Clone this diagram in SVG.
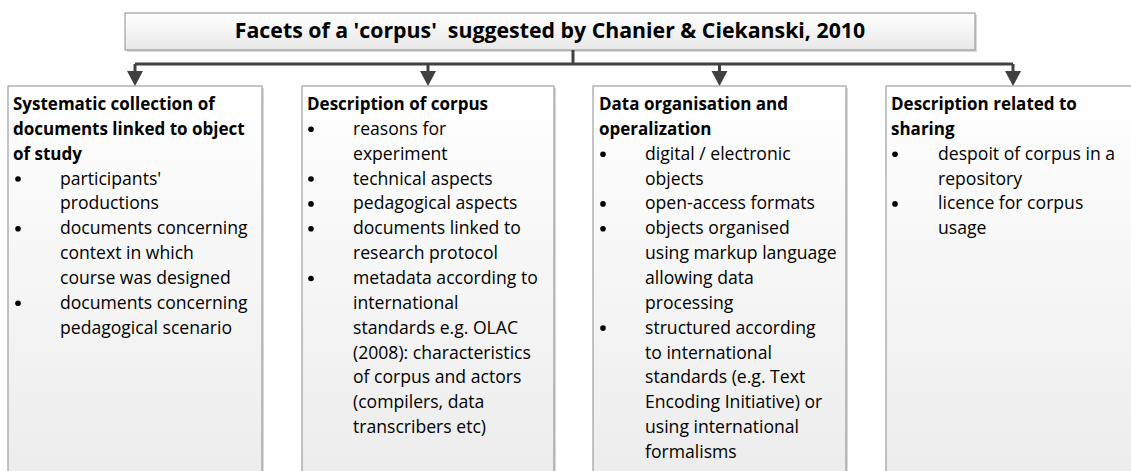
<svg xmlns="http://www.w3.org/2000/svg" width="1131" height="471" viewBox="0 0 1131 471">
<style>
.box{fill:url(#g);stroke:#8c8c8c;stroke-width:1}
.sh{fill:#dadada}
.h{font-family:"Open Sans","Liberation Sans",sans-serif;font-weight:bold;font-size:17px;fill:#000}
.t{font-family:"Open Sans","Liberation Sans",sans-serif;font-size:17.6px;fill:#000}
.title{font-family:"Open Sans","Liberation Sans",sans-serif;font-weight:bold;font-size:21.3px;fill:#000}
.c{fill:none;stroke:#404040;stroke-width:3}
.a{fill:#404040}
</style>
<defs>
<linearGradient id="g" x1="0" y1="0" x2="0" y2="1">
<stop offset="0" stop-color="#ffffff"/>
<stop offset="1" stop-color="#ececec"/>
</linearGradient>
<linearGradient id="gt" x1="0" y1="0" x2="0" y2="1">
<stop offset="0" stop-color="#ffffff"/>
<stop offset="1" stop-color="#e8e8e8"/>
</linearGradient>
</defs>
<rect width="1131" height="471" fill="#fff"/>

<g id="title">
<rect x="127" y="15" width="850" height="37" class="sh"/>
<rect x="125" y="13" width="850" height="37" fill="url(#gt)" stroke="#8c8c8c"/>
<text x="550" y="38" text-anchor="middle" class="title" xml:space="preserve">Facets of a 'corpus'  suggested by Chanier &amp; Ciekanski, 2010</text>
</g>

<g id="connectors">
<path class="c" d="M573,50 V64"/>
<path class="c" d="M135,64 H1013"/>
<path class="c" d="M135,64 V74"/>
<path class="c" d="M428,64 V74"/>
<path class="c" d="M719.5,64 V74"/>
<path class="c" d="M1013,64 V74"/>
<polygon class="a" points="127,71 143,71 135,86"/>
<polygon class="a" points="420,71 436,71 428,86"/>
<polygon class="a" points="711.5,71 727.5,71 719.5,86"/>
<polygon class="a" points="1005,71 1021,71 1013,86"/>
</g>

<g id="box1">
<rect x="10" y="88" width="254" height="400" class="sh"/>
<rect x="8" y="86" width="254" height="400" class="box"/>
<text class="h" x="13" y="110">Systematic collection of</text>
<text class="h" x="13" y="134.85">documents linked to object</text>
<text class="h" x="13" y="159.7">of study</text>
<circle cx="18" cy="179" r="2.8"/>
<text class="t" x="60" y="184.55">participants'</text>
<text class="t" x="60" y="209.4">productions</text>
<circle cx="18" cy="228.8" r="2.8"/>
<text class="t" x="60" y="234.25">documents concerning</text>
<text class="t" x="60" y="259.1">context in which</text>
<text class="t" x="60" y="283.95">course was designed</text>
<circle cx="18" cy="303.3" r="2.8"/>
<text class="t" x="60" y="308.8">documents concerning</text>
<text class="t" x="60" y="333.65">pedagogical scenario</text>
</g>

<g id="box2">
<rect x="304" y="88" width="252" height="400" class="sh"/>
<rect x="302" y="86" width="252" height="400" class="box"/>
<text class="h" x="307" y="110">Description of corpus</text>
<circle cx="311" cy="129.3" r="2.8"/>
<text class="t" x="353" y="134.85">reasons for</text>
<text class="t" x="353" y="159.7">experiment</text>
<circle cx="311" cy="179" r="2.8"/>
<text class="t" x="353" y="184.55">technical aspects</text>
<circle cx="311" cy="203.9" r="2.8"/>
<text class="t" x="353" y="209.4">pedagogical aspects</text>
<circle cx="311" cy="228.8" r="2.8"/>
<text class="t" x="353" y="234.25">documents linked to</text>
<text class="t" x="353" y="259.1">research protocol</text>
<circle cx="311" cy="278.5" r="2.8"/>
<text class="t" x="353" y="283.95">metadata according to</text>
<text class="t" x="353" y="308.8">international</text>
<text class="t" x="353" y="333.65">standards e.g. OLAC</text>
<text class="t" x="353" y="358.5">(2008): characteristics</text>
<text class="t" x="353" y="383.35">of corpus and actors</text>
<text class="t" x="353" y="408.2">(compilers, data</text>
<text class="t" x="353" y="433.05">transcribers etc)</text>
</g>

<g id="box3">
<rect x="595" y="88" width="253" height="400" class="sh"/>
<rect x="593" y="86" width="253" height="400" class="box"/>
<text class="h" x="599" y="110">Data organisation and</text>
<text class="h" x="599" y="134.85">operalization</text>
<circle cx="603" cy="154.2" r="2.8"/>
<text class="t" x="645" y="159.7">digital / electronic</text>
<text class="t" x="645" y="184.55">objects</text>
<circle cx="603" cy="203.9" r="2.8"/>
<text class="t" x="645" y="209.4">open-access formats</text>
<circle cx="603" cy="228.8" r="2.8"/>
<text class="t" x="645" y="234.25">objects organised</text>
<text class="t" x="645" y="259.1">using markup language</text>
<text class="t" x="645" y="283.95">allowing data</text>
<text class="t" x="645" y="308.8">processing</text>
<circle cx="603" cy="328.1" r="2.8"/>
<text class="t" x="645" y="333.65">structured according</text>
<text class="t" x="645" y="358.5">to international</text>
<text class="t" x="645" y="383.35">standards (e.g. Text</text>
<text class="t" x="645" y="408.2">Encoding Initiative) or</text>
<text class="t" x="645" y="433.05">using international</text>
<text class="t" x="645" y="457.9">formalisms</text>
</g>

<g id="box4">
<rect x="888" y="88" width="253" height="400" class="sh"/>
<rect x="886" y="86" width="253" height="400" class="box"/>
<text class="h" x="891" y="110">Description related to</text>
<text class="h" x="891" y="134.85">sharing</text>
<circle cx="895" cy="154.2" r="2.8"/>
<text class="t" x="938" y="159.7">despoit of corpus in a</text>
<text class="t" x="938" y="184.55">repository</text>
<circle cx="895" cy="203.9" r="2.8"/>
<text class="t" x="938" y="209.4">licence for corpus</text>
<text class="t" x="938" y="234.25">usage</text>
</g>
</svg>
